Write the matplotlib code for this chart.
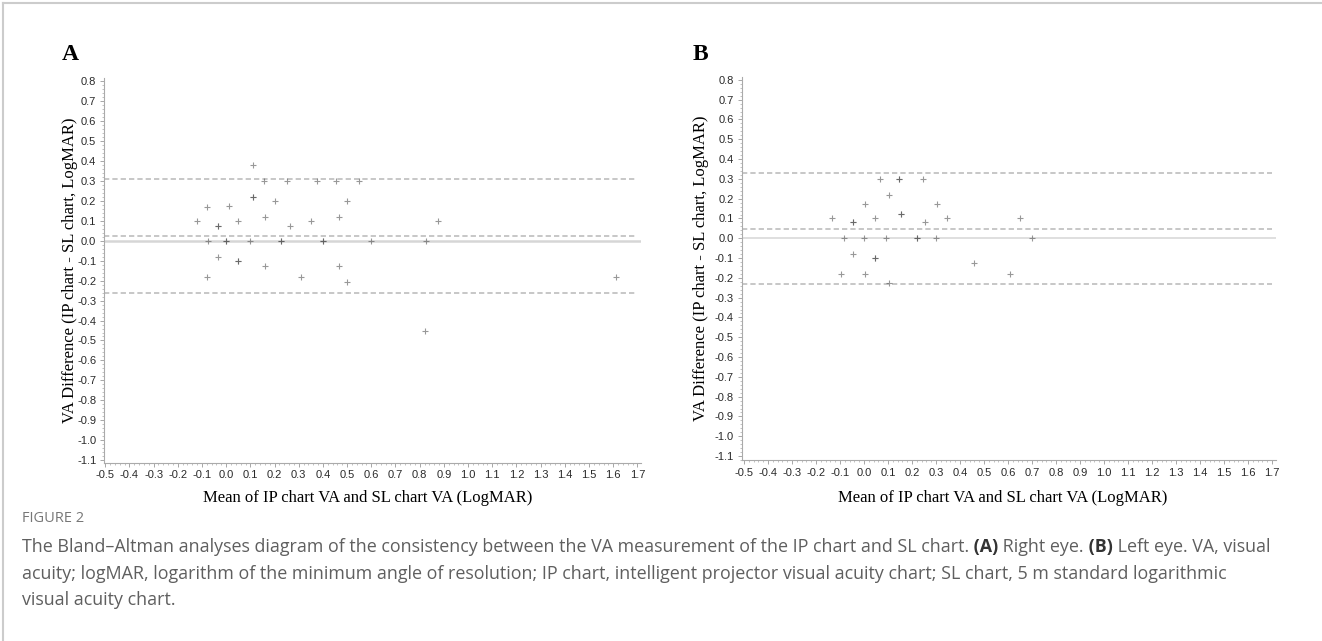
import matplotlib
matplotlib.use('Agg')
import matplotlib.pyplot as plt
from matplotlib.lines import Line2D
from matplotlib.ticker import MultipleLocator, FormatStrFormatter

# Bland-Altman data (mean VA, difference IP - SL)
right_mean = [-0.12, -0.08, -0.08, -0.075, -0.035, -0.035, -0.035, 0.0, 0.0, 0.01,
              0.05, 0.05, 0.05, 0.1, 0.11, 0.11, 0.11, 0.155, 0.16, 0.16,
              0.2, 0.225, 0.225, 0.25, 0.265, 0.31, 0.35, 0.375, 0.4, 0.4,
              0.455, 0.465, 0.465, 0.5, 0.5, 0.55, 0.6, 0.825, 0.82, 0.875,
              1.61]
right_diff = [0.1, 0.17, -0.18, 0.0, 0.075, 0.075, -0.08, 0.0, 0.0, 0.175,
              0.1, -0.1, -0.1, 0.0, 0.38, 0.22, 0.22, 0.3, 0.12, -0.125,
              0.2, 0.0, 0.0, 0.3, 0.075, -0.18, 0.1, 0.3, 0.0, 0.0,
              0.3, 0.12, -0.125, 0.2, -0.205, 0.3, 0.0, 0.0, -0.45, 0.1,
              -0.18]
right_limits = [0.31, 0.024, -0.263]  # upper LoA, bias, lower LoA

left_mean = [-0.135, -0.095, -0.085, -0.045, -0.045, -0.045, 0.0, 0.005, 0.005, 0.045,
             0.045, 0.045, 0.065, 0.093, 0.105, 0.105, 0.145, 0.145, 0.155, 0.155,
             0.22, 0.22, 0.245, 0.255, 0.3, 0.305, 0.345, 0.46, 0.61, 0.65,
             0.7]
left_diff = [0.1, -0.18, 0.0, 0.08, 0.08, -0.08, 0.0, 0.175, -0.18, 0.1,
             -0.1, -0.1, 0.3, 0.0, 0.22, -0.225, 0.3, 0.3, 0.125, 0.125,
             0.0, 0.0, 0.3, 0.08, 0.0, 0.175, 0.1, -0.125, -0.18, 0.1,
             0.0]
left_limits = [0.328, 0.048, -0.231]

panel_letters = ['A', 'B']
xlabel = 'Mean of IP chart VA and SL chart VA (LogMAR)'
ylabel = 'VA Difference (IP chart - SL chart, LogMAR)'

W, H = 1322, 641
plt.rcParams['axes.unicode_minus'] = False
plt.rcParams['lines.scale_dashes'] = False

fig = plt.figure(figsize=(W / 100, H / 100), dpi=100)


def px(x, y):
    return x / W, 1 - y / H


def panel(rect, xlim, ylim, means, diffs, limits, zero_lw):
    left, top, right, bottom = rect
    ax = fig.add_axes([left / W, 1 - bottom / H, (right - left) / W, (bottom - top) / H])
    ax.set_xlim(*xlim)
    ax.set_ylim(*ylim)

    ax.axhline(0, color='#d6d6d6', lw=zero_lw, zorder=1)
    for v in limits:
        ax.hlines(v, xlim[0], 1.7, colors='#b8b8b8', lw=1.1, linestyles=(0, (3.8, 2.2)), zorder=2)
    ax.plot(means, diffs, '+', ls='none', ms=4.5, mew=0.8, color='#444444', alpha=0.55, zorder=3)

    ax.xaxis.set_major_locator(MultipleLocator(0.1))
    ax.xaxis.set_minor_locator(MultipleLocator(0.02))
    ax.yaxis.set_major_locator(MultipleLocator(0.1))
    ax.yaxis.set_minor_locator(MultipleLocator(0.02))
    ax.xaxis.set_major_formatter(FormatStrFormatter('%.1f'))
    ax.yaxis.set_major_formatter(FormatStrFormatter('%.1f'))
    ax.tick_params(which='major', length=3, width=0.6, color='#999999', pad=2.5,
                   labelsize=8, labelcolor='#2a2a2a')
    ax.tick_params(which='minor', length=1.6, width=0.5, color='#aaaaaa')
    for lab in ax.get_xticklabels() + ax.get_yticklabels():
        lab.set_family('Liberation Sans')
    for s in ['top', 'right']:
        ax.spines[s].set_visible(False)
    for s in ['left', 'bottom']:
        ax.spines[s].set_color('#aaaaaa')
        ax.spines[s].set_linewidth(0.8)
    return ax


panel((104, 78.3, 641, 462.7), (-0.505, 1.715), (-1.112, 0.813),
      right_mean, right_diff, right_limits, 1.8)
panel((741.6, 77.3, 1275.6, 460), (-0.51, 1.715), (-1.12, 0.813),
      left_mean, left_diff, left_limits, 1.1)

serif = 'Liberation Serif'
fig.text(*px(62, 55), panel_letters[0], family=serif, fontweight='bold', fontsize=17, va='center', ha='left')
fig.text(*px(693, 55), panel_letters[1], family=serif, fontweight='bold', fontsize=17, va='center', ha='left')
fig.text(*px(70, 270), ylabel, family=serif, fontsize=12, rotation=90, va='center', ha='center')
fig.text(*px(701, 268), ylabel, family=serif, fontsize=12, rotation=90, va='center', ha='center')
fig.text(*px(368, 498), xlabel, family=serif, fontsize=12, va='center', ha='center')
fig.text(*px(1003, 498), xlabel, family=serif, fontsize=12, va='center', ha='center')

# border of the figure box
fig.add_artist(Line2D([3 / W, 3 / W], [0, 1 - 3 / H], transform=fig.transFigure, color='#cccccc', lw=1.5))
fig.add_artist(Line2D([3 / W, 1], [1 - 3 / H, 1 - 3 / H], transform=fig.transFigure, color='#cccccc', lw=1.5))

# caption
cap = fig.add_axes([0, 0, 1, 1])
cap.axis('off')
cap.set_xlim(0, 1)
cap.set_ylim(0, 1)
cap_font = 'Open Sans'
cap.text(*px(22, 519), 'FIGURE 2', family=cap_font, fontsize=10.5, color='#777777', va='center')

caption_lines = [
    [('The Bland\u2013Altman analyses diagram of the consistency between the VA measurement of the IP chart and SL chart.', 'normal'),
     (' (A)', 'bold'), (' Right eye.', 'normal'), (' (B)', 'bold'), (' Left eye. VA, visual', 'normal')],
    [('acuity; logMAR, logarithm of the minimum angle of resolution; IP chart, intelligent projector visual acuity chart; SL chart, 5 m standard logarithmic', 'normal')],
    [('visual acuity chart.', 'normal')],
]
caption_y = [547, 574, 600]

for parts, yy in zip(caption_lines, caption_y):
    prev = None
    for txt, weight in parts:
        color = '#333333' if weight == 'bold' else '#5f5f5f'
        if prev is None:
            prev = cap.text(*px(22, yy), txt, family=cap_font, fontsize=12.9, fontweight=weight,
                            color=color, va='center', ha='left')
        else:
            prev = cap.annotate(txt, xy=(1, 0.5), xycoords=prev, family=cap_font, fontsize=12.9,
                                fontweight=weight, color=color, va='center', ha='left')

fig.savefig('out.png', dpi=100)
